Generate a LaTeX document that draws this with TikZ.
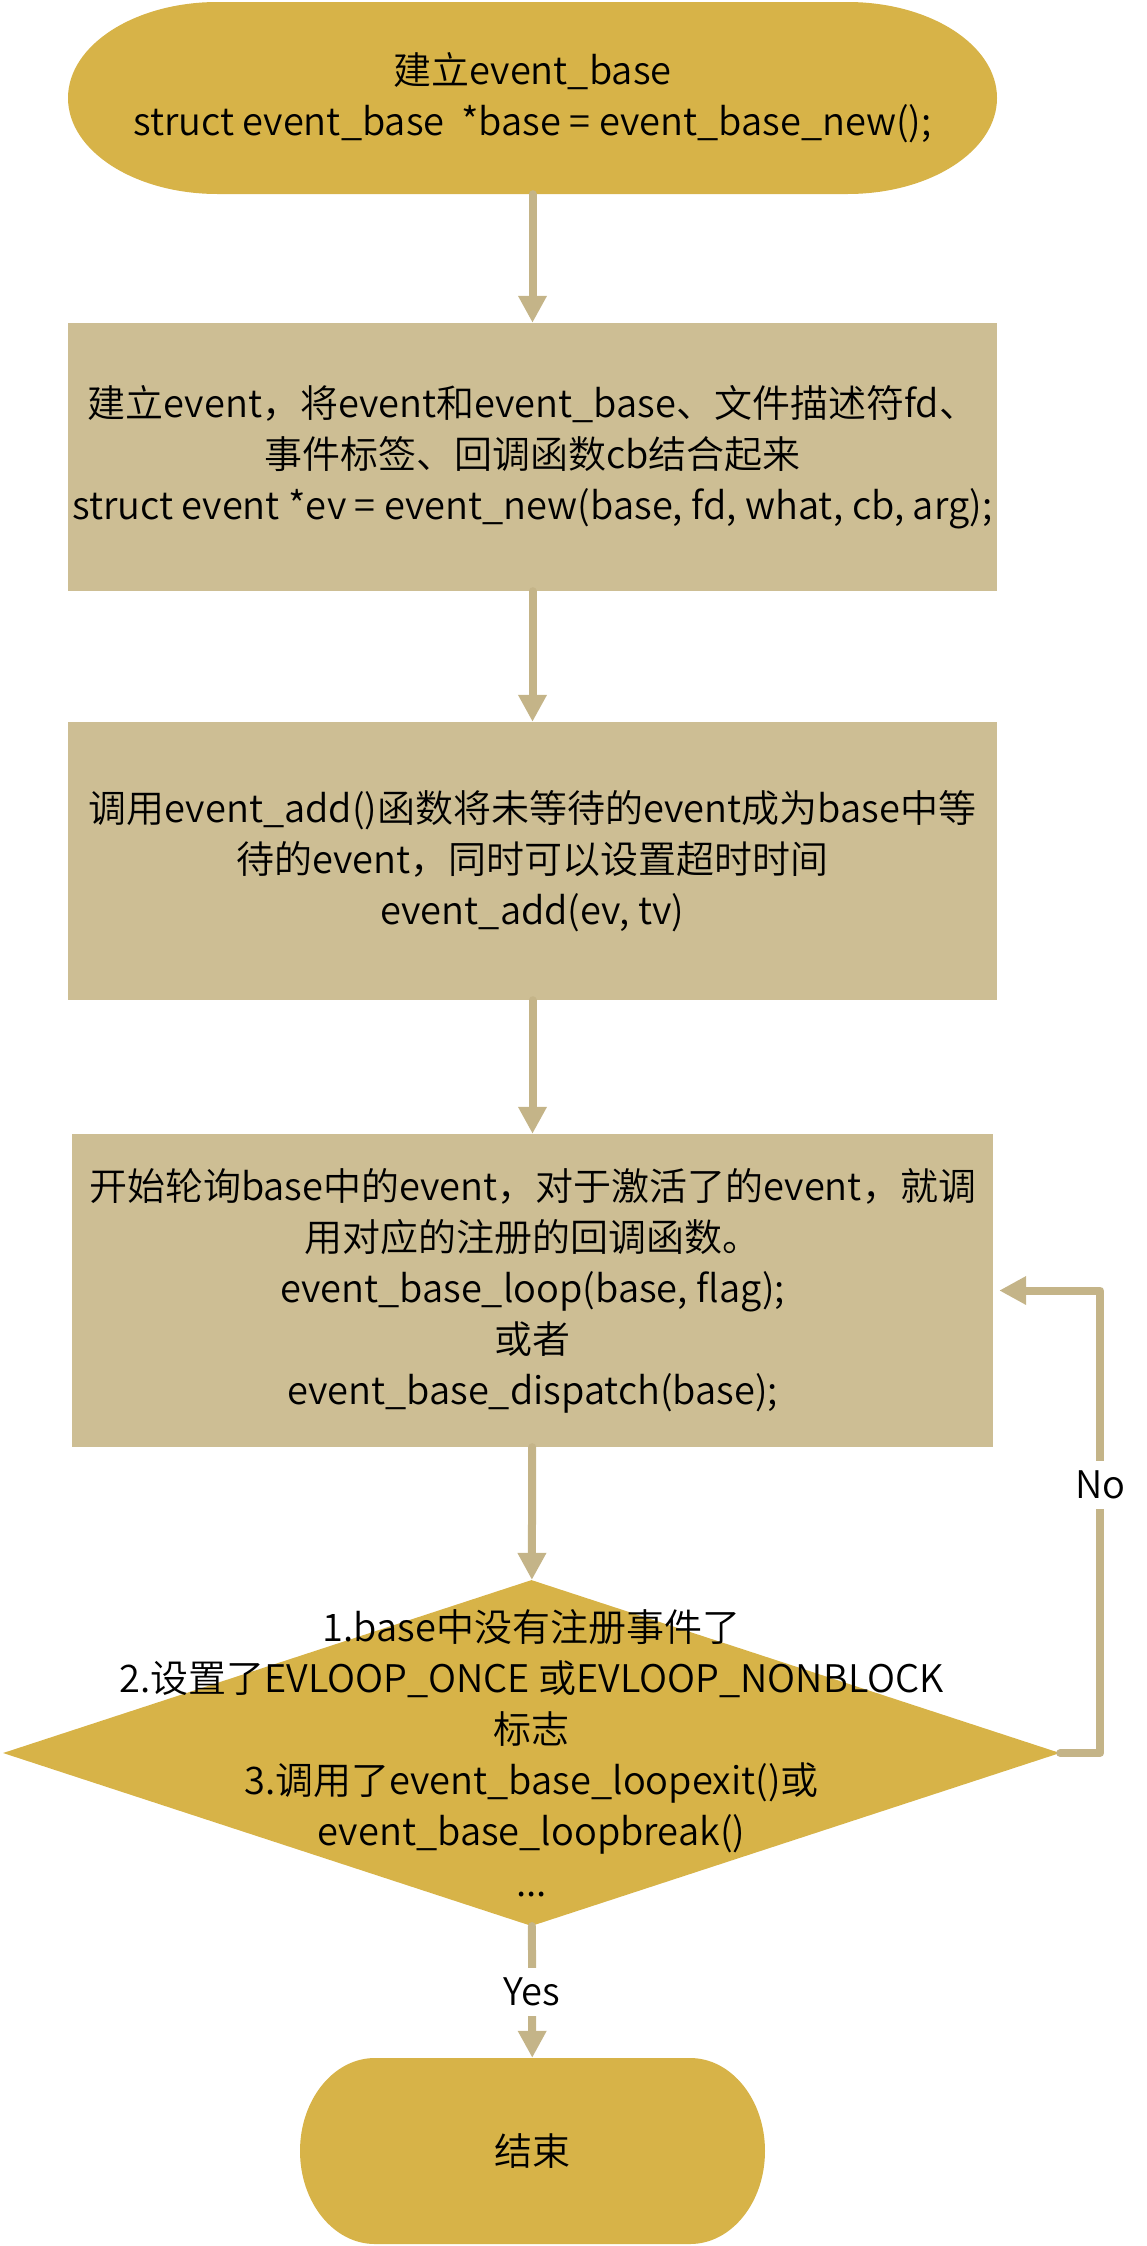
\documentclass[tikz,border=0pt]{standalone}
\usepackage{fontspec}
\setmainfont{Noto Sans CJK SC DemiLight}
\usetikzlibrary{arrows.meta,shapes.geometric}
\definecolor{termgold}{RGB}{215,179,72}
\definecolor{boxtan}{RGB}{205,190,148}
\definecolor{flowline}{RGB}{196,180,136}
\def\termshape(#1,#2)(#3,#4){\fill[termgold] ({#1-#3+0.322*#3},{#2-#4}) -- ({#1+#3-0.322*#3},{#2-#4}) arc[start angle=-90,end angle=90,x radius={0.322*#3},y radius=#4] -- ({#1-#3+0.322*#3},{#2+#4}) arc[start angle=90,end angle=270,x radius={0.322*#3},y radius=#4] -- cycle;}
\tikzset{
	flowfont/.style={font=\fontsize{38}{51}\selectfont},
	termtext/.style={rectangle, inner sep=0pt, align=center, flowfont},
	stepbox/.style={rectangle, fill=boxtan, inner sep=0pt, align=center, flowfont},
	checkbox/.style={diamond, fill=termgold, inner sep=0pt},
	flow/.style={draw=flowline, line width=8pt, line cap=round, line join=round, -{Triangle[length=27pt,width=27pt]}},
	flowlabel/.style={fill=white, inner sep=10pt, flowfont}
}

\begin{document}
\begin{tikzpicture}[x=1pt,y=-1pt]
				\useasboundingbox (0,0) rectangle (1147,2246);
				
				\termshape(532.5,98)(464.5,96);
				\node[termtext, minimum width=929pt, minimum height=192pt] (start) at (532.5,98) {建立event\_base\\struct event\_base~~*base = event\_base\_new();};
				
				\node[stepbox, minimum width=929pt, minimum height=268pt] (create) at (532.5,457) {建立event，将event和event\_base、文件描述符fd、\\事件标签、回调函数cb结合起来\\struct event *ev = event\_new(base, fd, what, cb, arg);};
				
				\node[stepbox, minimum width=929pt, minimum height=278pt] (add) at (532.5,861) {调用event\_add()函数将未等待的event成为base中等\\待的event，同时可以设置超时时间\\event\_add(ev, tv)};
				
				\node[stepbox, minimum width=921pt, minimum height=313pt] (poll) at (532.5,1290.5) {开始轮询base中的event，对于激活了的event，就调\\用对应的注册的回调函数。\\event\_base\_loop(base, flag);\\或者\\event\_base\_dispatch(base);};
				
				\node[checkbox, minimum width=1057pt, minimum height=346pt] (check) at (531.5,1753) {};
				\node[termtext] (checktext) at (check.center) {1.base中没有注册事件了\\2.设置了EVLOOP\_ONCE 或EVLOOP\_NONBLOCK\\标志\\3.调用了event\_base\_loopexit()或\\event\_base\_loopbreak()\\...};
				
				\termshape(532.5,2151)(232.5,93);
				\node[termtext, minimum width=465pt, minimum height=186pt] (finish) at (532.5,2151) {结束};
				
				\draw[flow] (start) -- (create);
				\draw[flow] (create) -- (add);
				\draw[flow] (add) -- (poll);
				\draw[flow] (poll) -- (check);
				\draw[flow] (check) -- node[flowlabel] {Yes} (finish);
				\draw[flow, shorten >=6pt] (check.east) -- ++(40,0) |- node[flowlabel, pos=0.29] {No} (poll.east);
			\end{tikzpicture}
\end{document}
